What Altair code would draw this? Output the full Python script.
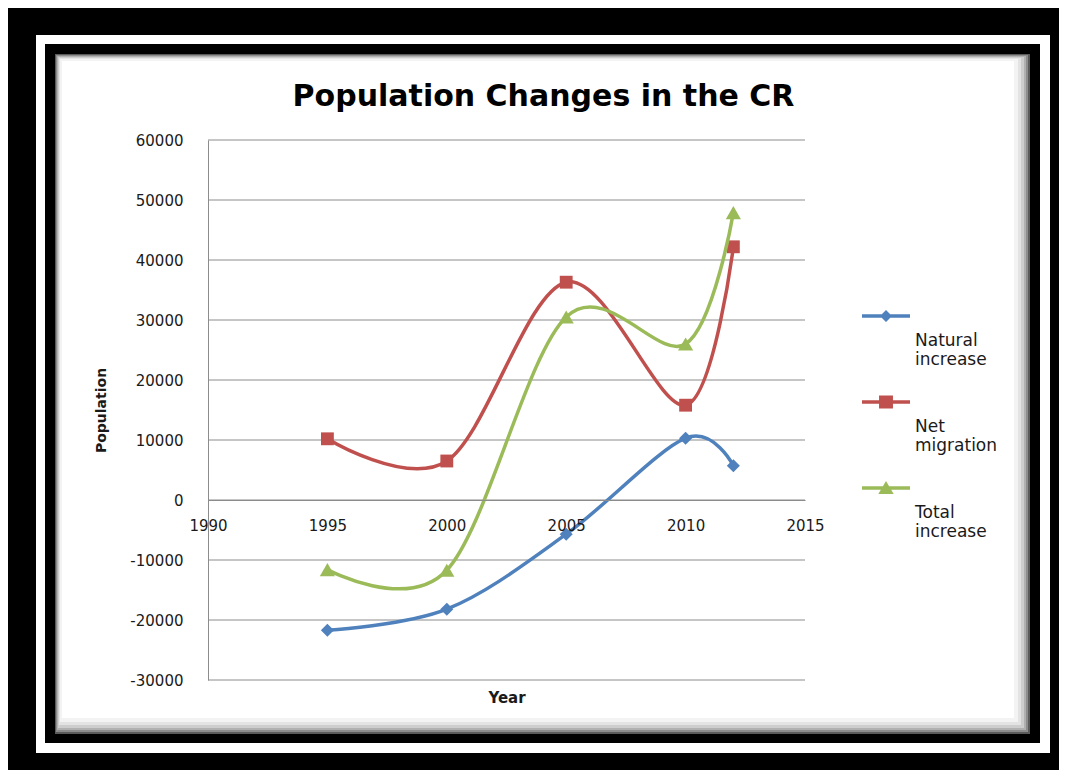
import altair as alt
import pandas as pd

# ---- data ----
years = [1995, 2000, 2005, 2010, 2012]
natural_increase = [-21700, -18200, -5700, 10300, 5700]
net_migration = [10200, 6500, 36300, 15800, 42200]
total_increase = [-11600, -11700, 30500, 26000, 47900]

series = ["Natural increase", "Net migration", "Total increase"]
x_ticks = [1990, 1995, 2000, 2005, 2010, 2015]
y_ticks = [-30000, -20000, -10000, 0, 10000, 20000, 30000, 40000, 50000, 60000]

colors = ["#4F81BD", "#C0504D", "#9BBB59"]
shapes = ["diamond", "square", "triangle-up"]
sizes = [170, 165, 230]
# legend symbols: a short line with the marker, drawn above the label
legend_paths = [
    "M-1,-0.78H1V-0.64H-1Z M0,-0.96L0.25,-0.71L0,-0.46L-0.25,-0.71Z",
    "M-1,-0.78H1V-0.64H-1Z M-0.29,-0.98H0.29V-0.44H-0.29Z",
    "M-1,-0.78H1V-0.64H-1Z M0,-1.0L0.32,-0.46H-0.32Z",
]

rows = []
for s, vals in zip(series, [natural_increase, net_migration, total_increase]):
    for yr, v in zip(years, vals):
        rows.append({"Year": yr, "Population": v, "Series": s})
df = pd.DataFrame(rows)

W, H = 597, 540
OX, OY = 208, 140  # plot origin on the page (for the decorative frame)
FONT = "DejaVu Sans"
TXT = "#1a1a1a"
GRID = "#8c8c8c"

xscale = alt.Scale(domain=[1990, 2015], nice=False, zero=False)
yscale = alt.Scale(domain=[-30000, 60000], nice=False, zero=False)

x_axis = alt.Axis(values=x_ticks, labelExpr="'' + datum.value", offset=-180,
                  ticks=False, grid=False, domainColor=GRID, domainWidth=1,
                  labelFont=FONT, labelFontSize=15, labelColor=TXT, labelPadding=18,
                  labelFlush=False, labelOverlap=False,
                  title="Year", titleFont=FONT, titleFontSize=15, titleFontWeight="bold",
                  titleColor=TXT, titleX=W / 2, titleY=197, titleBaseline="middle",
                  titleAlign="center", zindex=1)
y_axis = alt.Axis(values=y_ticks, labelExpr="'' + datum.value",
                  ticks=False, grid=False, domainColor=GRID, domainWidth=1,
                  labelFont=FONT, labelFontSize=15, labelColor=TXT, labelPadding=25,
                  labelFlush=False, labelOverlap=False,
                  title="Population", titleFont=FONT, titleFontSize=14, titleFontWeight="bold",
                  titleColor=TXT, titleAngle=270, titleX=-107, titleY=H / 2,
                  titleBaseline="middle", titleAlign="center", zindex=1)

X = alt.X("Year:Q", scale=xscale, axis=x_axis)
Y = alt.Y("Population:Q", scale=yscale, axis=y_axis)

# ---- decorative picture frame ----
frame = [
    (36, 35, 1050, 753, "white"),
    (45, 44, 1040, 743, "black"),
    (55, 54, 1030, 734, "#5a5a5a"),
    (56, 55, 1028, 732, "#8c8c8c"),
    (57, 56, 1026, 730, "#b0b0b0"),
    (58, 57, 1024, 728, "#cdcdcd"),
    (59, 58, 1021, 725, "#e3e3e3"),
    (60, 59, 1018, 722, "#f3f3f3"),
    (62, 61, 1014, 718, "#ffffff"),
]
layers = []
for x1, y1, x2, y2, c in frame:
    layers.append(
        alt.Chart(alt.Data(values=[{"k": 1}])).mark_rect(color=c).encode(
            x=alt.value(x1 - OX), x2=alt.value(x2 - OX),
            y=alt.value(y1 - OY), y2=alt.value(y2 - OY))
    )

# gridlines from tick values
layers.append(
    alt.Chart(pd.DataFrame({"Population": y_ticks})).mark_rule(color=GRID, strokeWidth=1)
    .encode(y=Y)
)

for s, c, sh, sz in zip(series, colors, shapes, sizes):
    base = alt.Chart(df).transform_filter(alt.datum.Series == s)
    layers.append(base.mark_line(interpolate="cardinal", strokeWidth=3.5, color=c)
                  .encode(x=X, y=Y))
    layers.append(base.mark_point(shape=sh, filled=True, size=sz, color=c, opacity=1,
                                  strokeWidth=0).encode(x=X, y=Y))

legend = alt.Legend(orient="none", legendX=654, legendY=169, title=None, padding=0,
                    symbolSize=2304, symbolStrokeWidth=0, symbolOpacity=1,
                    labelExpr="split(datum.label, ' ')", labelBaseline="top",
                    labelOffset=5, labelFont=FONT, labelFontSize=17, labelColor=TXT,
                    rowPadding=27, zindex=1)
layers.append(
    alt.Chart(df).transform_filter("false").mark_point(filled=True, opacity=1, strokeWidth=0)
    .encode(color=alt.Color("Series:N", scale=alt.Scale(domain=series, range=colors), legend=legend),
            shape=alt.Shape("Series:N", scale=alt.Scale(domain=series, range=legend_paths), legend=legend))
)

chart = alt.layer(*layers).properties(
    width=W, height=H,
    title=alt.TitleParams("Population Changes in the CR", font=FONT, fontSize=30,
                          fontWeight="bold", color="black", anchor="middle", dx=37,
                          dy=107, offset=30, frame="group", zindex=1),
    autosize=alt.AutoSizeParams(type="none"),
    padding={"left": 200, "top": 132, "right": 254, "bottom": 90},
    background="black",
).configure_view(stroke=None)

chart.save("out.html", embed_options={"renderer": "svg", "actions": False})
